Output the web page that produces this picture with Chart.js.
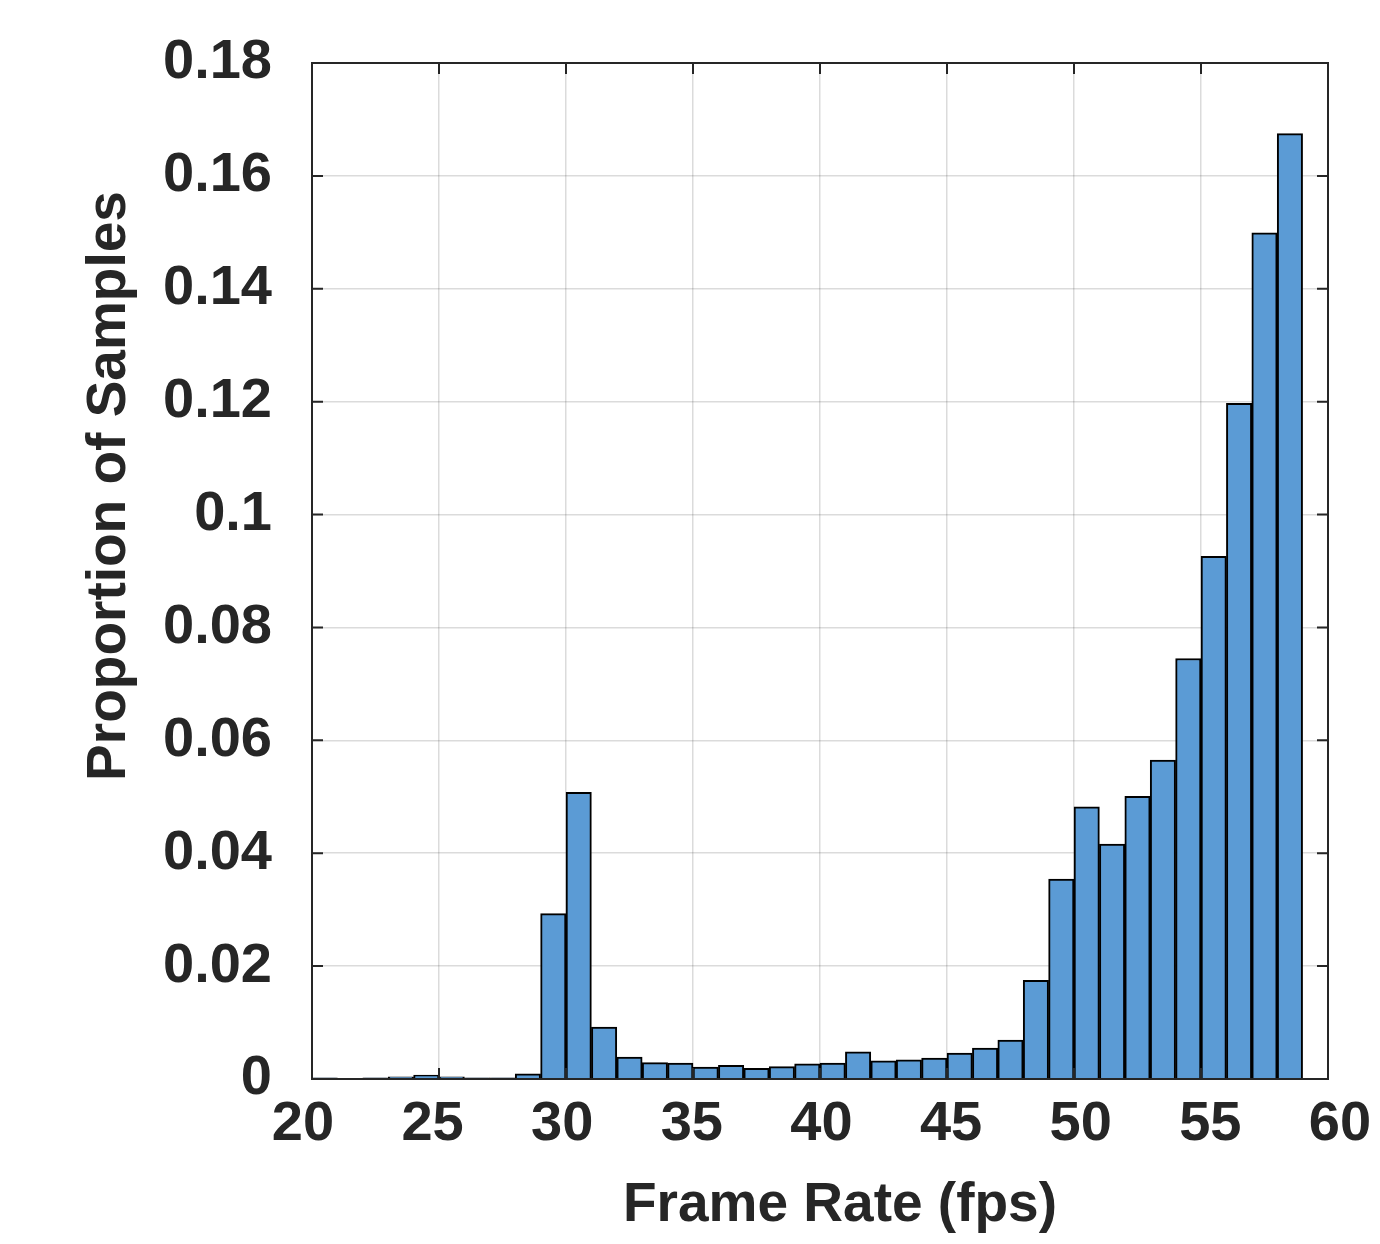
<!DOCTYPE html>
<html>
<head>
  <title>Frame Rate Histogram</title>
  <meta charset="utf-8" />
  <script src="https://cdn.jsdelivr.net/npm/chart.js"></script>
  <style>
    body {
      margin: 0;
      background: white;
    }
    #wrap {
      width: 1380px;
      height: 1244px;
    }
  </style>
</head>
<body>
  <div id="wrap"><canvas id="chart" width="1380" height="1244"></canvas></div>
  <script>
    // histogram bins (left edge of each 1 fps bin) and proportion of samples
    const binStarts = [20, 21, 22, 23, 24, 25, 26, 27, 28, 29,
                       30, 31, 32, 33, 34, 35, 36, 37, 38, 39,
                       40, 41, 42, 43, 44, 45, 46, 47, 48, 49,
                       50, 51, 52, 53, 54, 55, 56, 57, 58];
    const proportions = [0.0002, 0.0001, 0.0002, 0.0004, 0.0007, 0.0004, 0.0002, 0.0002, 0.0009, 0.0293,
                         0.0508, 0.0092, 0.0039, 0.0029, 0.0028, 0.0021, 0.0024, 0.0019, 0.0022, 0.0027,
                         0.0028, 0.0048, 0.0032, 0.0034, 0.0037, 0.0046, 0.0055, 0.0069, 0.0175, 0.0354,
                         0.0482, 0.0416, 0.0501, 0.0565, 0.0745, 0.0926, 0.1197, 0.1499, 0.1675];
    const xTicks = [20, 25, 30, 35, 40, 45, 50, 55, 60];
    const yTicks = [0, 0.02, 0.04, 0.06, 0.08, 0.1, 0.12, 0.14, 0.16, 0.18];
    const xTitle = 'Frame Rate (fps)';
    const yTitle = 'Proportion of Samples';

    const ink = '#262626';
    const fontFamily = '"Liberation Sans", Arial, Helvetica, sans-serif';
    const tickFont = { family: fontFamily, size: 56, weight: 'bold' };

    // box round the plot with inward tick marks on all four sides,
    // plus both axis titles (placed off-centre, as in the original figure)
    const boxPlugin = {
      id: 'box',
      afterDatasetsDraw(chart) {
        const ctx = chart.ctx;
        const a = chart.chartArea;
        const xs = chart.scales.x;
        const ys = chart.scales.y;
        const len = 11;
        ctx.save();
        ctx.strokeStyle = ink;
        ctx.lineWidth = 2;
        ctx.beginPath();
        xTicks.forEach(v => {
          const px = xs.getPixelForValue(v);
          ctx.moveTo(px, a.bottom);
          ctx.lineTo(px, a.bottom - len);
          ctx.moveTo(px, a.top);
          ctx.lineTo(px, a.top + len);
        });
        yTicks.forEach(v => {
          const py = ys.getPixelForValue(v);
          ctx.moveTo(a.left, py);
          ctx.lineTo(a.left + len, py);
          ctx.moveTo(a.right, py);
          ctx.lineTo(a.right - len, py);
        });
        ctx.stroke();
        ctx.strokeRect(a.left, a.top, a.right - a.left, a.bottom - a.top);

        ctx.fillStyle = ink;
        ctx.font = 'bold 55px ' + fontFamily;
        ctx.textAlign = 'center';
        ctx.textBaseline = 'middle';
        ctx.fillText(xTitle, 840, 1206);
        ctx.translate(110, 486);
        ctx.rotate(-Math.PI / 2);
        ctx.fillText(yTitle, 0, 0);
        ctx.restore();
      }
    };

    new Chart(document.getElementById('chart'), {
      type: 'bar',
      data: {
        datasets: [{
          data: binStarts.map((b, i) => ({ x: b + 0.5, y: proportions[i] })),
          backgroundColor: '#5b9bd5',
          borderColor: '#000000',
          borderWidth: 2,
          barPercentage: 1,
          categoryPercentage: 1,
          grouped: false
        }]
      },
      options: {
        responsive: false,
        animation: false,
        layout: {
          padding: { left: 0, top: 63, right: 52, bottom: 0 }
        },
        plugins: {
          legend: { display: false },
          tooltip: { enabled: false }
        },
        scales: {
          // data axis: grid and bars
          x: {
            type: 'linear',
            position: 'bottom',
            min: 20,
            max: 60,
            offset: false,
            afterBuildTicks: s => { s.ticks = xTicks.map(v => ({ value: v })); },
            afterFit: s => { s.height = 0; s.paddingLeft = 0; s.paddingRight = 0; },
            grid: {
              offset: false,
              color: 'rgba(0,0,0,0.14)',
              lineWidth: 1.5,
              drawTicks: false
            },
            border: { display: false },
            ticks: { display: false }
          },
          // label axis: the original's labels are spread slightly wider than its ticks
          xLabels: {
            type: 'linear',
            position: 'bottom',
            min: 20.35,
            max: 59.54,
            offset: false,
            afterBuildTicks: s => { s.ticks = xTicks.map(v => ({ value: v })); },
            afterFit: s => { s.height = 165; s.paddingLeft = 0; s.paddingRight = 0; },
            grid: { display: false, drawTicks: false },
            border: { display: false },
            ticks: {
              padding: 12,
              maxRotation: 0,
              autoSkip: false,
              color: ink,
              font: tickFont
            }
          },
          y: {
            min: 0,
            max: 0.18,
            afterBuildTicks: s => { s.ticks = yTicks.map(v => ({ value: v })); },
            afterFit: s => { s.width = 312; s.paddingTop = 0; s.paddingBottom = 0; },
            grid: {
              color: 'rgba(0,0,0,0.14)',
              lineWidth: 1.5,
              drawTicks: false
            },
            border: { display: false },
            ticks: {
              padding: 40,
              color: ink,
              font: tickFont,
              callback: v => String(Number(v.toFixed(2)))
            }
          }
        }
      },
      plugins: [boxPlugin]
    });
  </script>
</body>
</html>
